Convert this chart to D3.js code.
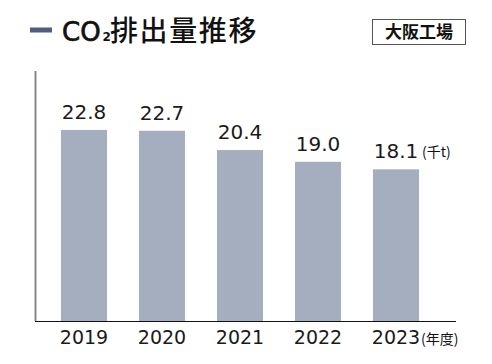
<!DOCTYPE html>
<html>
<head>
<meta charset="utf-8">
<script src="https://cdn.jsdelivr.net/npm/d3@7"></script>
<style>
  body { margin: 0; background: #fff; }
  svg { display: block; }
</style>
</head>
<body>
<svg id="chart" width="492" height="364"></svg>
<script>
const years = ["2019", "2020", "2021", "2022", "2023"];
const values = [22.8, 22.7, 20.4, 19.0, 18.1];
const title = "排出量推移";
const plantLabel = "大阪工場";
const unitLabel = "(千t)";
const yearUnit = "(年度)";

const svg = d3.select("#chart");
const cjk = "'Noto Sans CJK JP', 'Noto Sans', sans-serif";
const num = "'DejaVu Sans', Verdana, sans-serif";

const baseY = 321;
const x = d3.scaleBand().domain(years).range([45, 435]).paddingInner(0.41).paddingOuter(0.205);
const y = d3.scaleLinear().domain([0, 25]).range([baseY, baseY - 25 * 8.38]);

// Title
svg.append("rect").attr("x", 30).attr("y", 27.5).attr("width", 22).attr("height", 5).attr("fill", "#4f5e7f");
svg.append("text").attr("x", 62).attr("y", 40.5).attr("font-family", num)
  .attr("font-size", 26).attr("fill", "#111").attr("stroke", "#111").attr("stroke-width", 0.7)
  .text("CO");
svg.append("text").attr("x", 102.5).attr("y", 40.5).attr("font-family", num)
  .attr("font-size", 12).attr("font-weight", 700).attr("fill", "#111").text("2");
svg.append("text").attr("x", 110).attr("y", 41).attr("font-family", cjk)
  .attr("font-size", 28).attr("font-weight", 500).attr("letter-spacing", 1.6).attr("fill", "#111")
  .text(title);

// Plant box
svg.append("rect").attr("x", 372.5).attr("y", 19.5).attr("width", 93).attr("height", 25)
  .attr("fill", "#fff").attr("stroke", "#555").attr("stroke-width", 1);
svg.append("text").attr("x", 419).attr("y", 38).attr("text-anchor", "middle")
  .attr("font-family", cjk).attr("font-size", 17).attr("font-weight", 700).attr("fill", "#111")
  .text(plantLabel);

// Axes
svg.append("line").attr("x1", 35.5).attr("x2", 35.5).attr("y1", 71).attr("y2", baseY)
  .attr("stroke", "#888").attr("stroke-width", 2);

// Bars
svg.selectAll(".bar").data(years).enter().append("rect")
  .attr("class", "bar")
  .attr("x", d => x(d))
  .attr("y", (d, i) => y(values[i]))
  .attr("width", x.bandwidth())
  .attr("height", (d, i) => baseY - y(values[i]))
  .attr("fill", "#a5aebf");

svg.append("line").attr("x1", 35).attr("x2", 456).attr("y1", baseY + 0.5).attr("y2", baseY + 0.5)
  .attr("stroke", "#111").attr("stroke-width", 1.2);

// Value labels
svg.selectAll(".val").data(years).enter().append("text")
  .attr("class", "val")
  .attr("x", d => x(d) + x.bandwidth() / 2)
  .attr("y", (d, i) => y(values[i]) - 11)
  .attr("text-anchor", "middle")
  .attr("font-family", num).attr("font-size", 20).attr("fill", "#1a1a1a")
  .text((d, i) => values[i].toFixed(1));

const last = years[years.length - 1];
svg.append("text").attr("x", x(last) + x.bandwidth() + 3).attr("y", y(values[values.length - 1]) - 12)
  .attr("font-family", cjk).attr("font-size", 14).attr("fill", "#111").text(unitLabel);

// Year labels
svg.selectAll(".yr").data(years).enter().append("text")
  .attr("class", "yr")
  .attr("x", d => x(d) + x.bandwidth() / 2)
  .attr("y", 344)
  .attr("text-anchor", "middle")
  .attr("font-family", num).attr("font-size", 19).attr("fill", "#1a1a1a")
  .text(d => d);

svg.append("text").attr("x", 421).attr("y", 344)
  .attr("font-family", cjk).attr("font-size", 14).attr("fill", "#111").text(yearUnit);
</script>
</body>
</html>
